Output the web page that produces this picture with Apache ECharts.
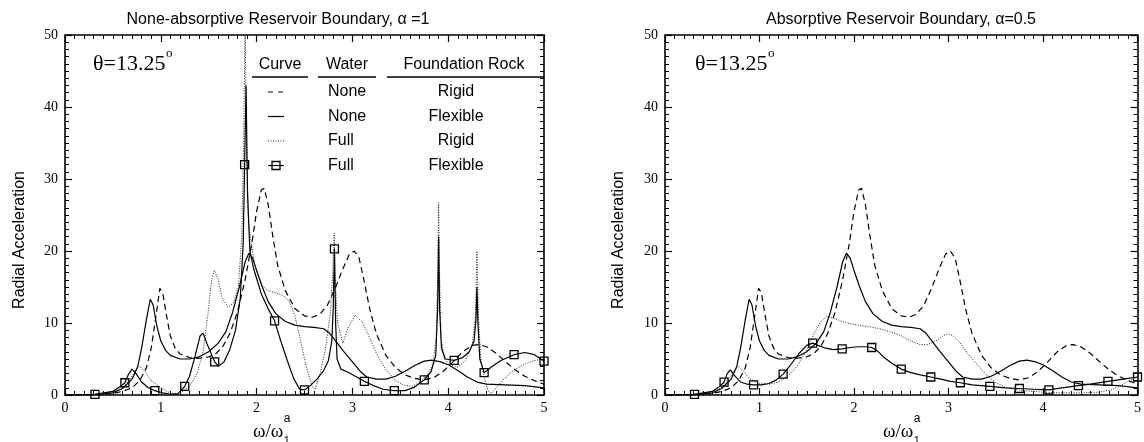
<!DOCTYPE html>
<html>
<head>
<meta charset="utf-8">
<script src="https://cdn.jsdelivr.net/npm/echarts@6.0.0/dist/echarts.min.js"></script>
<style>
html,body{margin:0;padding:0;background:#fff;}
#chart{width:1144px;height:442px;}
</style>
</head>
<body>
<div id="chart"></div>
<script>
// ---------------- data ----------------
const xTicks = [0, 1, 2, 3, 4, 5];
const yTicks = [0, 10, 20, 30, 40, 50];

const titleLeft = 'None-absorptive Reservoir Boundary, \u03b1 =1';
const titleRight = 'Absorptive Reservoir Boundary, \u03b1=0.5';
const angleText = '\u03b8=13.25';
const yName = 'Radial Acceleration';

const legendHeaders = ['Curve', 'Water', 'Foundation Rock'];
const legendWater = ['None', 'None', 'Full', 'Full'];
const legendRock = ['Rigid', 'Flexible', 'Rigid', 'Flexible'];

// marker spacing of the "Full / Flexible" curve (x units)
const markerStep = 0.3125;

// None water, rigid rock (dashed) - same in both panels
const noneRigid = [[0,0],[0.3,0.05],[0.5,0.2],[0.6,0.5],[0.7,1.0],[0.78,2.0],[0.85,3.8],[0.9,6.5],[0.95,11],[0.99,14.8],[1.02,14.2],[1.06,11],[1.1,8.2],[1.15,6.5],[1.2,5.7],[1.3,5.2],[1.4,5.1],[1.5,5.3],[1.58,5.8],[1.65,6.8],[1.72,8.5],[1.8,11.5],[1.88,16],[1.95,21],[2.0,25.5],[2.05,28.5],[2.08,28.7],[2.12,26.5],[2.17,22],[2.22,18],[2.3,14.5],[2.4,12],[2.5,11],[2.58,10.8],[2.66,11.2],[2.74,12.5],[2.82,14.8],[2.9,17.5],[2.97,19.6],[3.02,20],[3.07,19],[3.12,16],[3.18,12],[3.25,8.5],[3.35,5.5],[3.45,3.8],[3.55,2.8],[3.65,2.3],[3.75,2.1],[3.85,2.4],[3.95,3.3],[4.05,4.6],[4.15,6],[4.25,6.9],[4.32,7],[4.4,6.7],[4.5,5.8],[4.6,4.6],[4.7,3.5],[4.8,2.6],[4.9,2.0],[5.0,1.5]];

// None water, flexible rock (solid) - same in both panels
const noneFlexible = [[0,0],[0.3,0.05],[0.5,0.3],[0.6,0.9],[0.7,2.2],[0.76,4],[0.8,6.5],[0.85,10.5],[0.89,13.3],[0.92,12.5],[0.96,9.5],[1.0,7.5],[1.05,6.2],[1.1,5.5],[1.2,5.0],[1.3,5.0],[1.4,5.3],[1.5,6.0],[1.6,7.2],[1.68,8.8],[1.75,11.5],[1.82,15],[1.88,18.5],[1.92,19.7],[1.96,19],[2.0,17.3],[2.06,15],[2.12,13],[2.2,11.3],[2.3,10.2],[2.4,9.7],[2.5,9.5],[2.6,9.4],[2.7,9.2],[2.76,8.6],[2.82,7.6],[2.9,6.2],[3.0,4.6],[3.08,3.3],[3.15,2.5],[3.25,2.2],[3.35,2.2],[3.45,2.6],[3.55,3.3],[3.65,4.1],[3.75,4.7],[3.83,4.85],[3.92,4.6],[4.0,4.2],[4.1,3.4],[4.2,2.5],[4.3,1.8],[4.4,1.5],[4.6,1.4],[4.8,1.3],[5.0,1.0]];

// Full water, rigid rock (dotted), alpha = 1
const fullRigidA1 = [[0,0],[0.3,0.05],[0.5,0.4],[0.6,1.0],[0.68,2.2],[0.74,3.5],[0.78,4.0],[0.83,3.3],[0.9,2.0],[1.0,1.0],[1.08,0.4],[1.15,0.15],[1.22,0.4],[1.3,1.2],[1.38,3],[1.44,6],[1.49,11],[1.53,16],[1.56,17.3],[1.6,16],[1.64,13.5],[1.7,12.2],[1.76,12.8],[1.81,15],[1.845,22],[1.865,35],[1.88,52],[1.895,35],[1.915,24],[1.94,21.5],[1.98,18],[2.05,15.3],[2.12,14.5],[2.2,14.2],[2.28,13.8],[2.34,13],[2.4,11],[2.46,7.5],[2.52,3.8],[2.58,1.2],[2.61,0.8],[2.66,2.8],[2.72,6.5],[2.77,11.5],[2.795,17],[2.81,22.5],[2.82,16],[2.845,10],[2.9,7.2],[2.96,9.5],[3.03,11.1],[3.1,10.2],[3.18,8],[3.26,5.5],[3.35,3.5],[3.45,2.0],[3.55,1.3],[3.62,1.2],[3.7,1.7],[3.78,2.8],[3.84,4.2],[3.875,8],[3.892,18],[3.9,26.7],[3.908,18],[3.925,8],[3.96,5],[4.02,4.2],[4.1,3.9],[4.18,4.8],[4.25,7],[4.285,11],[4.3,20],[4.315,11],[4.34,5],[4.38,2.2],[4.42,0.5],[4.45,0.2],[4.5,1.0],[4.58,2.2],[4.68,3.4],[4.8,4.3],[4.9,4.8],[5.0,5.0]];

// Full water, flexible rock (solid + squares), alpha = 1
const fullFlexibleA1 = [[0,0],[0.3125,0.1],[0.5,0.5],[0.58,1.2],[0.625,1.7],[0.66,2.8],[0.7,3.6],[0.74,3.0],[0.8,1.8],[0.87,1.0],[0.9375,0.6],[1.02,0.3],[1.1,0.1],[1.18,0.2],[1.25,1.2],[1.3,2.6],[1.36,5.5],[1.41,8.2],[1.44,8.6],[1.48,7.2],[1.5625,4.6],[1.6,4.0],[1.66,4.6],[1.72,6.3],[1.78,9],[1.83,13.5],[1.86,21],[1.875,32],[1.89,43],[1.905,28],[1.93,20],[1.97,17.5],[2.05,14],[2.12,12],[2.1875,10.3],[2.25,7.6],[2.32,4.8],[2.39,2.2],[2.45,0.8],[2.5,0.7],[2.56,1.3],[2.63,2.2],[2.7,3.4],[2.75,4.8],[2.785,7.5],[2.8,12],[2.8125,20.3],[2.825,10],[2.84,5],[2.88,3.6],[2.95,3.2],[3.03,2.6],[3.125,1.9],[3.22,1.3],[3.32,0.8],[3.4375,0.6],[3.55,0.6],[3.65,1.1],[3.75,2.1],[3.82,3.2],[3.87,5.5],[3.89,12],[3.9,22],[3.91,12],[3.93,6.5],[3.97,5],[4.0625,4.8],[4.15,5.2],[4.22,6.0],[4.27,7.5],[4.29,10.5],[4.3,15],[4.31,10],[4.33,5],[4.375,3.1],[4.45,3.9],[4.55,4.8],[4.6875,5.6],[4.8,5.9],[4.9,5.6],[5.0,4.7]];

// Full water, rigid rock (dotted), alpha = 0.5
const fullRigidA05 = [[0,0],[0.3,0.05],[0.5,0.4],[0.6,1.0],[0.68,2.3],[0.74,3.5],[0.78,4.0],[0.83,3.3],[0.9,2.2],[1.0,1.6],[1.1,1.5],[1.2,1.8],[1.3,2.6],[1.4,4.0],[1.5,6.3],[1.58,8.6],[1.65,10.2],[1.71,10.9],[1.8,10.6],[1.9,10.1],[2.0,9.8],[2.1,9.6],[2.2,9.4],[2.3,9.1],[2.4,8.7],[2.5,8.2],[2.6,7.5],[2.7,7.0],[2.78,7.0],[2.88,7.6],[2.95,8.3],[3.0,8.5],[3.05,8.2],[3.12,7.3],[3.2,5.8],[3.3,4.3],[3.4,2.8],[3.5,1.7],[3.6,1.1],[3.7,0.8],[3.8,0.6],[3.9,0.5],[4.0,0.4],[4.2,0.3],[4.4,0.3],[4.6,0.4],[4.72,0.7],[4.82,1.3],[4.9,1.9],[5.0,2.5]];

// Full water, flexible rock (solid + squares), alpha = 0.5
const fullFlexibleA05 = [[0,0],[0.3125,0.1],[0.5,0.5],[0.58,1.2],[0.625,1.8],[0.66,3.0],[0.69,3.5],[0.73,2.8],[0.8,1.8],[0.87,1.5],[0.9375,1.4],[1.02,1.4],[1.1,1.6],[1.18,2.1],[1.25,2.9],[1.33,4.2],[1.42,5.8],[1.5,6.9],[1.5625,7.2],[1.62,6.9],[1.7,6.5],[1.78,6.3],[1.875,6.4],[1.96,6.6],[2.05,6.7],[2.12,6.7],[2.1875,6.6],[2.25,6.1],[2.32,5.2],[2.4,4.4],[2.5,3.6],[2.6,3.1],[2.7,2.8],[2.8125,2.5],[2.92,2.2],[3.02,1.9],[3.125,1.7],[3.25,1.4],[3.4375,1.2],[3.6,1.0],[3.75,0.9],[3.9,0.8],[4.0625,0.7],[4.2,1.0],[4.375,1.3],[4.5,1.5],[4.6875,1.9],[4.85,2.2],[5.0,2.5]];

// ---------------- chart ----------------
const SERIF = '"Liberation Serif","Times New Roman",Times,serif';
const SANS = '"Liberation Sans",Arial,Helvetica,sans-serif';
const grids = [
  {left: 65, top: 35, width: 479, height: 360},
  {left: 665, top: 35, width: 477, height: 360}
];

function tw(text, font) {
  const c = document.createElement('canvas').getContext('2d');
  c.font = font;
  return c.measureText(text).width;
}

function xAx(gi, pos) {
  return {
    gridIndex: gi, type: 'value', position: pos,
    min: xTicks[0], max: xTicks[xTicks.length - 1], interval: xTicks[1] - xTicks[0],
    axisLine: {onZero: false, lineStyle: {color: '#000', width: 1.6}},
    axisTick: {inside: true, length: 7, lineStyle: {color: '#000', width: 1.2}},
    minorTick: {show: true, splitNumber: 10, length: 4, lineStyle: {color: '#000', width: 1}},
    axisLabel: {show: pos === 'bottom', color: '#000', fontFamily: SERIF, fontSize: 14, margin: 6},
    splitLine: {show: false}
  };
}
function yAx(gi, pos) {
  return {
    gridIndex: gi, type: 'value', position: pos,
    min: yTicks[0], max: yTicks[yTicks.length - 1], interval: yTicks[1] - yTicks[0],
    axisLine: {onZero: false, lineStyle: {color: '#000', width: 1.6}},
    axisTick: {inside: true, length: 7, lineStyle: {color: '#000', width: 1.2}},
    minorTick: {show: true, splitNumber: 10, length: 4, lineStyle: {color: '#000', width: 1}},
    axisLabel: {show: pos === 'left', color: '#000', fontFamily: SERIF, fontSize: 14, margin: 7},
    splitLine: {show: false}
  };
}

function markerSymbol(v) {
  const k = v[0] / markerStep;
  return (v[0] > 0 && Math.abs(k - Math.round(k)) < 1e-6) ? 'rect' : 'none';
}

function seriesFor(gi, dashed, solid, dotted, squares) {
  const xi = gi * 2, yi = gi * 2;
  return [
    {type: 'line', xAxisIndex: xi, yAxisIndex: yi, data: dashed, symbol: 'none', z: 3,
     lineStyle: {color: '#000', width: 1.2, type: [6, 4]}},
    {type: 'line', xAxisIndex: xi, yAxisIndex: yi, data: solid, symbol: 'none', z: 3,
     lineStyle: {color: '#000', width: 1.2}},
    {type: 'line', xAxisIndex: xi, yAxisIndex: yi, data: dotted, symbol: 'none', z: 3,
     lineStyle: {color: '#222', width: 1, type: [1, 1.5]}},
    {type: 'line', xAxisIndex: xi, yAxisIndex: yi, data: squares, z: 4,
     symbol: markerSymbol, symbolSize: 8, showSymbol: true, showAllSymbol: true,
     itemStyle: {color: 'rgba(255,255,255,0)', borderColor: '#000', borderWidth: 1.3},
     lineStyle: {color: '#000', width: 1.2}}
  ];
}

// ---------------- text / legend graphics ----------------
const graphics = [];
function txt(x, y, text, font, size, align, vAlign, rot) {
  graphics.push({type: 'text', x: x, y: y, rotation: rot || 0, z: 10,
    style: {text: text, fontFamily: font, fontSize: size, fill: '#000',
      textAlign: align || 'left', textVerticalAlign: vAlign || 'middle'}});
}
function seg(x1, y1, x2, y2, w, dash, color) {
  graphics.push({type: 'line', z: 10, shape: {x1: x1, y1: y1, x2: x2, y2: y2},
    style: {stroke: color || '#000', lineWidth: w, lineDash: dash || null}});
}

// titles
txt(278, 20, titleLeft, SANS, 16, 'center');
txt(901, 20, titleRight, SANS, 16, 'center');

// y-axis names
txt(20, 240, yName, SANS, 16, 'center', 'middle', Math.PI / 2);
txt(619, 240, yName, SANS, 16, 'center', 'middle', Math.PI / 2);

// x-axis names  ω/ω with sub 1 and sup a
[[253, 432], [883, 432]].forEach(function (p) {
  const main = '\u03c9/\u03c9';
  txt(p[0], p[1], main, SERIF, 19, 'left');
  const w = tw(main, '19px ' + SERIF);
  txt(p[0] + w + 0.5, p[1] - 13, 'a', SANS, 12, 'left');
  txt(p[0] + w + 0.5, p[1] + 9, '1', SANS, 11, 'left');
});

// angle labels
[[93, 64], [695, 64]].forEach(function (p) {
  txt(p[0], p[1], angleText, SERIF, 22, 'left');
  const w = tw(angleText, '22px ' + SERIF);
  txt(p[0] + w + 0.5, p[1] - 10, 'o', SERIF, 13, 'left');
});

// legend table (left panel)
const headX = [280, 347, 464];
const underline = [[252, 308], [318, 376], [387, 544]];
legendHeaders.forEach(function (h, i) {
  txt(headX[i], 65, h, SANS, 16, 'center');
  seg(underline[i][0], 77, underline[i][1], 77, 1.4);
});
const rowY = [92, 116.5, 141, 165.5];
const sx1 = 268, sx2 = 284;
seg(sx1, rowY[0], sx2, rowY[0], 1.2, [5, 5]);
seg(sx1, rowY[1], sx2, rowY[1], 1.2);
seg(sx1, rowY[2], sx2, rowY[2], 1, [1, 1.5], '#222');
seg(sx1, rowY[3], sx2, rowY[3], 1.2);
graphics.push({type: 'rect', z: 10, shape: {x: 272, y: rowY[3] - 4, width: 8, height: 8},
  style: {fill: 'rgba(255,255,255,0)', stroke: '#000', lineWidth: 1.3}});
legendWater.forEach(function (t, i) { txt(328, rowY[i], t, SANS, 16, 'left'); });
legendRock.forEach(function (t, i) { txt(456, rowY[i], t, SANS, 16, 'center'); });

const option = {
  animation: false,
  backgroundColor: '#fff',
  grid: grids,
  xAxis: [xAx(0, 'bottom'), xAx(0, 'top'), xAx(1, 'bottom'), xAx(1, 'top')],
  yAxis: [yAx(0, 'left'), yAx(0, 'right'), yAx(1, 'left'), yAx(1, 'right')],
  series: [].concat(
    seriesFor(0, noneRigid, noneFlexible, fullRigidA1, fullFlexibleA1),
    seriesFor(1, noneRigid, noneFlexible, fullRigidA05, fullFlexibleA05)
  ),
  graphic: graphics
};

const chart = echarts.init(document.getElementById('chart'), null, {renderer: 'canvas'});
chart.setOption(option);
</script>
</body>
</html>
